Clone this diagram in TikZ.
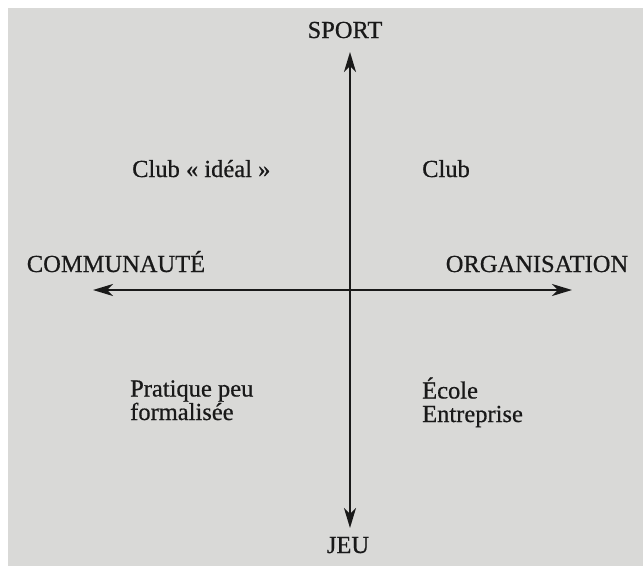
\documentclass[tikz,border=0pt]{standalone}
\usepackage{fontspec}
\setmainfont{Liberation Serif}[BoldFont=Liberation Serif,BoldFeatures={FakeBold=0.6}]
\usetikzlibrary{arrows.meta}
\definecolor{papier}{RGB}{217,217,215}
\definecolor{encre}{RGB}{25,25,25}
\begin{document}
\begin{tikzpicture}[x=1pt,y=1pt,line join=round,line cap=round,>={Stealth[length=20pt,width=12pt,inset=6pt]},font=\fontsize{24.5}{23.5}\selectfont\bfseries,text=encre]
\tikzset{axe/.style={line width=2pt,draw=encre,<->},
  pole/.style={inner sep=0pt,anchor=base},
  cadran/.style={inner sep=0pt,anchor=base west,align=left}}
\useasboundingbox (-350,-276) rectangle (293,290);
\fill[papier] (-342,-276) rectangle (293,282);
% axes
\coordinate (haut) at (0,238);
\coordinate (bas) at (0,-238);
\coordinate (gauche) at (-257,0);
\coordinate (droite) at (222,0);
\draw[axe] (bas) -- (haut);
\draw[axe] (gauche) -- (droite);
% poles
\node[pole] (sport) at (-5,252) {SPORT};
\node[pole] (jeu) at (-2,-263) {JEU};
\node[pole] (communaute) at (-234,18) {COMMUNAUTÉ};
\node[pole] (organisation) at (187,18) {ORGANISATION};
% cadrans (base = derniere ligne)
\node[cadran] (ideal) at (-218,113) {Club « idéal »};
\node[cadran] (club) at (72,113) {Club};
\node[cadran] (pratique) at (-220,-130) {Pratique peu\\formalisée};
\node[cadran] (ecole) at (72,-132) {École\\Entreprise};
\end{tikzpicture}
\end{document}
